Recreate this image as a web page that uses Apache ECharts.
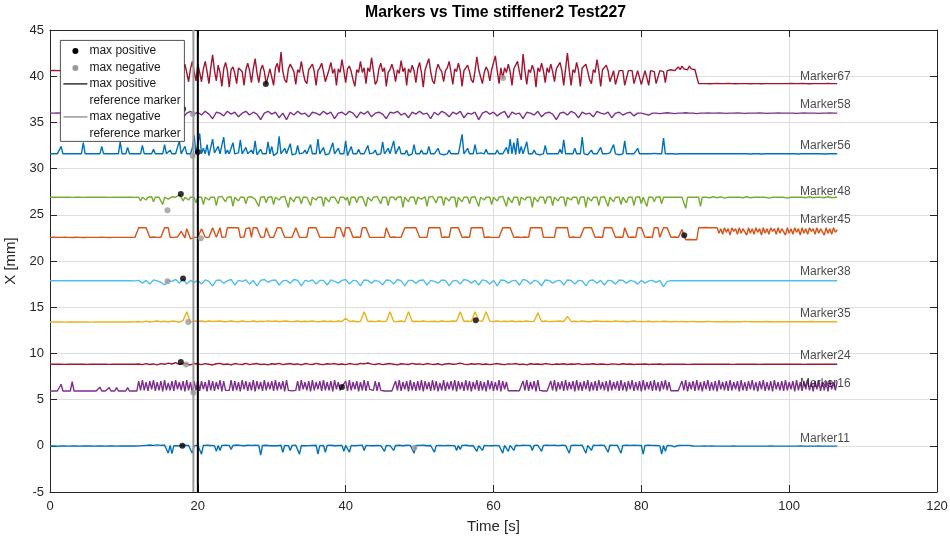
<!DOCTYPE html>
<html><head><meta charset="utf-8">
<script src="https://cdn.jsdelivr.net/npm/echarts@6/dist/echarts.min.js"></script>
<style>html,body{margin:0;padding:0;background:#fff}#c{width:950px;height:541px}</style>
</head><body><div id="c"></div>
<script>
// ---- data ----
// coarse time base (s)
const timeCoarse = [
0,0.5,1,1.5,2,2.5,3,3.5,4,4.5,5,5.5,6,6.5,7,7.5,8,8.5,9,9.5,
10,10.5,11,11.5,12,12.5,13,13.5,14,14.5,15,15.5,16,16.5,17,17.5,18,18.5,19,19.5,
20,20.5,21,21.5,22,22.5,23,23.5,24,24.5,25,25.5,26,26.5,27,27.5,28,28.5,29,29.5,
30,30.5,31,31.5,32,32.5,33,33.5,34,34.5,35,35.5,36,36.5,37,37.5,38,38.5,39,39.5,
40,40.5,41,41.5,42,42.5,43,43.5,44,44.5,45,45.5,46,46.5,47,47.5,48,48.5,49,49.5,
50,50.5,51,51.5,52,52.5,53,53.5,54,54.5,55,55.5,56,56.5,57,57.5,58,58.5,59,59.5,
60,60.5,61,61.5,62,62.5,63,63.5,64,64.5,65,65.5,66,66.5,67,67.5,68,68.5,69,69.5,
70,70.5,71,71.5,72,72.5,73,73.5,74,74.5,75,75.5,76,76.5,77,77.5,78,78.5,79,79.5,
80,80.5,81,81.5,82,82.5,83,83.5,84,84.5,85,85.5,86,86.5,87,87.5,88,88.5,89,89.5,
90,90.5,91,91.5,92,92.5,93,93.5,94,94.5,95,95.5,96,96.5,97,97.5,98,98.5,99,99.5,
100,100.5,101,101.5,102,102.5,103,103.5,104,104.5,105,105.5,106,106.5];

// fine time base (s)
const timeFine = [
0,0.25,0.5,0.75,1,1.25,1.5,1.75,2,2.25,2.5,2.75,3,3.25,3.5,3.75,4,4.25,4.5,4.75,5,5.25,5.5,5.75,6,6.25,6.5,6.75,7,7.25,7.5,7.75,8,8.25,8.5,8.75,9,9.25,9.5,9.75,
10,10.25,10.5,10.75,11,11.25,11.5,11.75,12,12.25,12.5,12.75,13,13.25,13.5,13.75,14,14.25,14.5,14.75,15,15.25,15.5,15.75,16,16.25,16.5,16.75,17,17.25,17.5,17.75,18,18.25,18.5,18.75,19,19.25,19.5,19.75,
20,20.25,20.5,20.75,21,21.25,21.5,21.75,22,22.25,22.5,22.75,23,23.25,23.5,23.75,24,24.25,24.5,24.75,25,25.25,25.5,25.75,26,26.25,26.5,26.75,27,27.25,27.5,27.75,28,28.25,28.5,28.75,29,29.25,29.5,29.75,
30,30.25,30.5,30.75,31,31.25,31.5,31.75,32,32.25,32.5,32.75,33,33.25,33.5,33.75,34,34.25,34.5,34.75,35,35.25,35.5,35.75,36,36.25,36.5,36.75,37,37.25,37.5,37.75,38,38.25,38.5,38.75,39,39.25,39.5,39.75,
40,40.25,40.5,40.75,41,41.25,41.5,41.75,42,42.25,42.5,42.75,43,43.25,43.5,43.75,44,44.25,44.5,44.75,45,45.25,45.5,45.75,46,46.25,46.5,46.75,47,47.25,47.5,47.75,48,48.25,48.5,48.75,49,49.25,49.5,49.75,
50,50.25,50.5,50.75,51,51.25,51.5,51.75,52,52.25,52.5,52.75,53,53.25,53.5,53.75,54,54.25,54.5,54.75,55,55.25,55.5,55.75,56,56.25,56.5,56.75,57,57.25,57.5,57.75,58,58.25,58.5,58.75,59,59.25,59.5,59.75,
60,60.25,60.5,60.75,61,61.25,61.5,61.75,62,62.25,62.5,62.75,63,63.25,63.5,63.75,64,64.25,64.5,64.75,65,65.25,65.5,65.75,66,66.25,66.5,66.75,67,67.25,67.5,67.75,68,68.25,68.5,68.75,69,69.25,69.5,69.75,
70,70.25,70.5,70.75,71,71.25,71.5,71.75,72,72.25,72.5,72.75,73,73.25,73.5,73.75,74,74.25,74.5,74.75,75,75.25,75.5,75.75,76,76.25,76.5,76.75,77,77.25,77.5,77.75,78,78.25,78.5,78.75,79,79.25,79.5,79.75,
80,80.25,80.5,80.75,81,81.25,81.5,81.75,82,82.25,82.5,82.75,83,83.25,83.5,83.75,84,84.25,84.5,84.75,85,85.25,85.5,85.75,86,86.25,86.5,86.75,87,87.25,87.5,87.75,88,88.25,88.5,88.75,89,89.25,89.5,89.75,
90,90.25,90.5,90.75,91,91.25,91.5,91.75,92,92.25,92.5,92.75,93,93.25,93.5,93.75,94,94.25,94.5,94.75,95,95.25,95.5,95.75,96,96.25,96.5,96.75,97,97.25,97.5,97.75,98,98.25,98.5,98.75,99,99.25,99.5,99.75,
100,100.25,100.5,100.75,101,101.25,101.5,101.75,102,102.25,102.5,102.75,103,103.25,103.5,103.75,104,104.25,104.5,104.75,105,105.25,105.5,105.75,106,106.25,106.5];

// Marker67 (fine)
const marker67 = [
40.6,40.6,40.61,40.6,40.6,40.59,40.6,40.6,40.61,40.6,40.6,40.6,40.59,40.6,40.61,40.6,40.6,40.6,40.59,40.6,40.6,40.61,40.6,40.6,40.6,40.59,40.6,40.6,40.61,40.6,40.6,40.6,40.59,40.6,40.6,40.61,40.6,40.6,40.6,40.6,
40.6,40.6,40.61,40.6,40.6,40.6,40.59,40.6,41.2,40.6,39.6,40.8,41.0,40.3,39.5,40.6,41.4,40.7,39.3,40.9,41.1,40.4,39.4,40.8,41.5,40.6,39.2,40.7,41.8,40.5,39.6,40.9,40.6,41.3,40.4,39.4,40.8,41.6,40.5,39.5,
41.3,40.4,39.4,40.8,41.6,40.5,39.2,40.9,42.3,40.6,39.5,41.2,40.4,38.9,40.8,41.5,40.6,38.8,40.7,41.0,40.3,39.2,40.9,41.0,40.5,39.0,40.7,41.4,40.6,39.3,40.8,41.9,40.4,39.3,40.7,41.2,40.5,39.15,39.2,40.8,
40.6,39.0,40.9,41.4,40.4,42.6,40.5,39.6,39.3,40.8,41.3,41.2,40.5,39.1,40.7,40.4,41.6,40.4,39.5,39.2,40.7,41.0,41.3,40.5,39.0,40.6,40.9,41.4,40.5,39.4,39.2,40.7,41.5,40.3,40.8,39.0,40.8,40.4,41.8,40.6,
39.3,40.8,41.1,40.5,39.6,38.9,40.7,40.4,41.6,40.4,40.9,39.2,40.9,40.5,42.0,40.6,39.1,39.5,40.8,41.4,40.5,40.9,38.9,40.4,40.7,41.3,40.6,39.4,40.7,40.3,41.7,40.5,40.9,39.0,40.8,40.4,41.2,40.6,39.3,40.8,
41.5,40.4,38.8,40.7,40.9,41.9,40.5,39.5,39.2,40.6,41.3,40.8,40.5,39.4,40.6,40.9,41.6,40.4,39.1,40.8,40.5,41.4,40.6,38.9,40.6,40.7,41.2,40.5,39.6,39.3,40.6,42.1,40.7,40.5,39.2,40.4,41.0,40.6,39.5,40.7,
40.6,42.2,40.6,39.2,40.9,39.8,40.9,40.4,41.3,40.5,39.0,40.8,40.7,41.6,40.5,39.6,42.4,40.6,39.1,40.7,40.4,41.2,40.6,38.8,40.9,40.5,41.4,40.6,39.3,40.9,40.4,41.3,40.5,39.4,40.8,40.7,41.5,40.6,39.0,40.8,
42.5,40.6,39.0,40.7,40.4,41.5,40.6,38.9,40.9,40.8,41.3,40.5,39.6,39.2,40.7,40.4,41.8,40.6,38.9,40.7,40.5,41.2,40.6,39.4,39.4,40.6,39.1,39.1,40.6,40.7,40.6,39.0,39.0,40.6,40.7,40.6,39.2,39.2,40.6,40.5,
39.1,39.1,40.6,40.7,39.0,40.6,40.6,40.5,39.2,39.2,40.6,40.6,40.5,39.3,40.6,40.6,40.7,40.6,40.6,40.5,41.0,40.7,41.1,40.8,41.0,40.7,41.1,40.8,41.0,40.7,40.9,39.2,39.2,39.2,39.21,39.2,39.2,39.19,39.2,39.2,
39.2,39.21,39.2,39.2,39.19,39.2,39.2,39.22,39.2,39.2,39.2,39.19,39.2,39.2,39.21,39.2,39.25,39.2,39.2,39.19,39.2,39.2,39.21,39.2,39.2,39.19,39.2,39.2,39.22,39.2,39.2,39.2,39.19,39.2,39.21,39.2,39.2,39.2,39.19,39.2,
39.2,39.21,39.2,39.2,39.19,39.2,39.2,39.21,39.2,39.2,39.2,39.19,39.2,39.2,39.21,39.2,39.2,39.2,39.19,39.2,39.2,39.21,39.2,39.2,39.19,39.2,39.2];

// Marker58 (coarse)
const marker58 = [
36.0,36.0,36.02,36.0,35.98,36.0,36.0,36.0,36.02,36.0,36.0,35.98,36.0,36.0,36.02,36.0,36.0,36.0,36.0,36.0,
36.0,36.0,36.0,35.9,36.1,35.7,36.1,35.8,36.2,35.6,36.0,35.9,36.2,35.7,36.0,36.1,35.5,36.0,36.2,35.9,
36.1,35.8,36.2,35.9,35.4,36.1,36.0,35.7,36.2,35.9,36.1,35.6,36.0,36.2,35.8,36.1,35.9,35.3,36.0,36.2,
35.9,36.1,35.5,36.0,35.3,36.1,35.8,36.2,35.9,36.0,35.6,36.1,36.0,35.8,36.2,35.9,36.1,35.4,36.0,36.1,
35.8,36.2,36.0,35.5,36.1,35.9,36.2,35.6,36.0,36.1,35.9,35.4,36.1,36.0,36.2,35.8,36.0,35.5,36.1,35.9,
36.2,35.9,36.0,35.4,36.1,35.8,36.2,36.0,35.6,36.1,35.9,36.2,35.5,36.0,35.9,36.1,35.3,36.0,36.2,35.9,
36.1,35.7,36.0,36.2,35.5,36.1,35.9,36.0,35.4,36.1,36.0,35.8,36.2,35.6,36.0,36.1,35.9,35.3,36.0,36.1,
35.8,36.2,36.0,35.5,36.1,35.9,36.0,35.6,36.2,36.0,35.9,36.1,35.5,36.0,36.1,35.8,36.0,36.1,35.7,36.0,
36.0,35.9,35.8,36.0,36.0,35.95,36.0,36.05,36.0,35.95,36.0,36.0,36.05,36.0,36.0,35.95,36.0,36.0,36.02,36.0,
36.0,36.02,36.0,35.98,36.0,36.0,36.02,36.0,35.98,36.0,36.0,36.0,36.02,36.0,35.98,36.0,36.0,36.02,36.0,36.0,
36.0,36.0,35.98,36.0,36.02,36.0,36.0,36.0,35.98,36.0,36.0,36.02,36.0,36.0];

// Marker56 (fine)
const marker56 = [
31.6,31.6,31.6,31.6,31.6,31.6,32.4,31.6,31.6,31.6,31.6,31.6,31.6,31.6,31.6,31.6,31.6,31.6,32.8,31.6,31.6,31.6,31.6,31.6,31.6,31.6,31.6,31.6,32.4,31.6,31.6,31.6,31.6,31.6,31.6,31.6,31.6,31.6,32.9,31.6,
31.6,31.6,32.3,31.6,31.6,31.6,31.6,31.6,31.7,31.6,32.5,31.6,31.6,31.6,31.6,31.6,32.1,31.6,31.6,31.6,31.7,31.6,32.6,31.6,31.6,32.0,31.6,31.5,31.6,31.6,33.0,31.6,31.6,32.4,31.6,31.7,31.6,32.2,33.6,31.6,
31.8,33.8,31.6,32.2,31.6,32.6,31.4,31.6,33.2,31.7,31.6,32.4,31.6,31.5,33.4,31.6,32.0,31.6,31.6,32.8,31.6,31.4,31.7,33.1,31.6,31.6,32.3,31.6,31.6,32.0,31.6,33.0,31.5,31.6,32.1,31.6,31.6,31.6,32.9,31.6,
32.4,31.4,31.6,31.7,33.5,31.6,31.6,32.2,31.6,31.6,32.7,31.5,31.6,31.6,32.5,31.6,31.6,31.7,32.0,31.6,31.6,32.6,31.6,31.6,31.6,33.2,31.6,31.6,32.3,31.5,31.6,31.6,31.7,32.8,31.6,31.6,32.2,31.6,31.6,31.6,
33.0,31.4,31.6,32.4,31.6,31.6,31.6,32.1,31.6,31.6,31.6,31.6,32.5,31.6,31.6,31.7,32.0,31.5,31.6,31.6,32.9,31.6,31.6,32.2,31.6,31.6,33.0,31.6,31.7,32.4,31.6,31.6,31.6,32.0,31.4,31.6,31.6,32.6,31.6,31.7,
31.6,32.0,31.6,31.7,31.6,32.4,31.6,31.6,31.6,31.6,32.2,31.6,31.6,31.5,31.6,31.6,32.0,31.6,31.6,31.6,31.6,31.6,31.6,33.7,31.6,31.6,32.2,31.6,31.6,31.6,32.6,31.6,31.6,31.7,31.6,31.6,32.1,31.6,31.6,31.6,
31.6,31.6,32.0,31.6,31.7,31.6,31.6,32.3,31.6,33.2,31.6,32.8,31.5,33.3,31.6,32.4,31.6,31.7,32.9,31.6,31.6,31.6,32.0,31.6,31.6,31.5,31.6,31.6,32.5,31.6,31.6,31.6,31.6,31.6,31.7,31.6,32.1,31.6,33.1,31.6,
31.6,31.6,31.7,31.6,32.2,31.6,31.6,31.6,33.4,31.6,31.6,31.5,31.6,32.0,31.6,31.6,31.6,31.6,32.3,31.6,31.6,31.6,31.6,31.7,31.6,32.6,31.6,31.6,31.5,31.6,31.6,33.0,31.6,31.6,31.6,31.6,31.6,31.6,32.2,31.6,
31.6,31.6,31.6,31.62,31.6,31.6,31.6,31.65,31.6,31.6,31.6,31.6,33.3,31.6,31.6,31.6,31.62,31.6,31.6,31.58,31.6,31.6,31.6,31.62,31.6,31.6,31.58,31.6,31.6,31.6,31.62,31.6,31.6,31.6,31.58,31.6,31.6,31.62,31.6,31.6,
31.6,31.6,31.62,31.6,31.58,31.6,31.6,31.6,31.62,31.6,31.6,31.6,31.58,31.6,31.6,31.62,31.6,31.6,31.6,31.58,31.6,31.6,31.62,31.6,31.6,31.58,31.6,31.6,31.6,31.62,31.6,31.6,31.58,31.6,31.6,31.62,31.6,31.6,31.6,31.6,
31.6,31.6,31.62,31.6,31.6,31.58,31.6,31.6,31.6,31.62,31.6,31.6,31.58,31.6,31.6,31.6,31.62,31.6,31.6,31.58,31.6,31.6,31.6,31.62,31.6,31.6,31.6];

// Marker48 (fine)
const marker48 = [
26.9,26.9,26.91,26.9,26.9,26.89,26.9,26.9,26.91,26.9,26.9,26.9,26.89,26.9,26.91,26.9,26.9,26.9,26.89,26.9,26.9,26.91,26.9,26.9,26.9,26.89,26.9,26.9,26.91,26.9,26.9,26.9,26.89,26.9,26.9,26.91,26.9,26.9,26.9,26.9,
26.9,26.9,26.91,26.9,26.9,26.9,26.89,26.9,26.9,26.5,26.9,26.9,26.6,26.9,26.9,26.95,26.4,26.9,26.9,26.9,26.95,26.1,26.9,26.9,26.7,26.9,26.95,27.0,26.9,27.1,27.2,26.9,26.5,26.9,26.9,26.6,26.9,26.95,26.9,26.3,
26.9,26.95,26.9,26.1,26.9,26.9,26.6,26.9,26.95,26.9,26.0,26.9,26.9,27.0,26.9,26.4,26.9,26.9,26.95,25.9,26.9,26.9,26.5,26.9,26.95,26.9,26.2,26.9,26.9,26.95,26.9,26.7,26.9,25.9,26.9,26.9,26.95,26.3,26.9,26.9,
26.95,26.1,26.9,26.9,26.6,26.9,26.95,27.0,26.9,25.8,26.9,26.9,26.4,26.9,26.95,26.9,26.2,26.9,26.9,26.9,26.95,26.0,26.9,26.9,26.6,26.9,26.95,26.9,25.9,26.9,26.9,26.4,26.9,27.0,26.9,26.9,26.2,26.9,26.95,26.9,
26.6,26.9,26.0,26.9,26.95,26.9,26.3,26.9,26.9,26.95,26.9,25.9,26.9,26.9,26.5,26.9,26.95,27.0,26.9,26.2,26.9,26.9,26.9,26.0,26.9,26.95,26.9,26.6,26.9,26.9,26.95,25.8,26.9,26.9,26.4,26.9,26.95,26.9,26.1,26.9,
26.9,26.7,26.9,26.95,25.9,26.9,26.9,27.0,26.9,26.3,26.9,26.9,26.95,26.0,26.9,26.9,26.5,26.9,26.95,26.9,25.8,26.9,26.9,26.4,26.9,26.95,26.9,26.2,26.9,26.9,26.95,26.9,25.9,26.9,26.9,26.6,26.9,26.95,26.9,26.1,
26.9,26.9,26.5,26.9,26.95,27.0,26.9,25.9,26.9,26.9,26.3,26.9,26.95,26.9,26.0,26.9,26.9,26.6,26.9,26.95,26.9,25.8,26.9,26.9,26.4,26.9,26.95,26.9,26.2,26.9,26.9,26.95,26.0,26.9,26.9,26.5,26.9,26.95,26.9,25.9,
26.9,26.9,26.6,26.9,26.95,26.9,26.1,26.9,26.9,26.95,25.8,26.9,26.9,26.5,26.9,26.95,26.9,26.0,26.9,26.9,26.95,26.9,25.9,26.9,26.9,26.4,26.9,26.95,26.9,26.1,26.9,26.9,26.3,26.9,26.95,26.9,26.0,26.9,26.9,26.95,
26.2,26.9,26.9,25.9,26.9,26.95,26.9,26.4,26.9,26.9,26.95,26.2,26.9,26.9,26.9,26.9,26.9,26.9,26.9,26.9,26.9,26.9,26.9,26.9,25.7,26.9,26.9,26.9,26.9,26.9,26.9,26.9,25.9,26.9,26.85,26.9,26.9,26.85,26.9,26.95,
26.9,26.85,26.9,26.95,26.9,26.8,26.9,26.9,26.85,26.9,26.95,26.9,26.8,26.9,26.9,26.85,26.9,26.95,26.9,26.85,26.9,26.9,26.8,26.9,26.95,26.9,26.85,26.9,26.9,26.8,26.9,26.9,26.85,26.9,26.95,26.9,26.85,26.9,26.9,26.8,
26.9,26.9,26.85,26.9,26.95,26.9,26.8,26.9,26.9,26.85,26.9,26.95,26.9,26.85,26.9,26.9,26.8,26.9,26.9,26.85,26.9,26.95,26.9,26.85,26.9,26.9,26.9];

// Marker45 (fine)
const marker45 = [
22.56,22.56,22.57,22.56,22.56,22.55,22.56,22.56,22.57,22.56,22.56,22.56,22.55,22.56,22.57,22.56,22.56,22.56,22.55,22.56,22.56,22.57,22.56,22.56,22.56,22.55,22.56,22.56,22.57,22.56,22.56,22.56,22.55,22.56,22.56,22.57,22.56,22.56,22.56,22.56,
22.56,22.56,22.56,22.57,22.56,22.56,22.56,22.56,23.6,23.5,23.6,23.55,23.6,23.5,22.56,22.56,22.6,22.56,22.56,22.56,22.56,22.6,23.6,23.5,23.6,22.56,22.56,22.56,22.56,22.6,22.7,23.2,23.1,22.5,23.5,23.6,22.4,22.56,22.56,22.56,
22.56,22.45,23.5,23.6,22.56,22.56,22.56,22.6,23.6,23.5,22.56,22.56,23.6,22.56,22.56,22.6,23.6,23.5,23.6,23.55,23.6,23.5,23.6,22.56,22.56,22.6,23.5,23.6,23.6,22.56,23.6,23.5,23.6,23.6,22.56,22.56,22.6,23.6,23.5,22.56,
22.56,22.56,22.6,23.6,23.5,23.6,23.55,22.56,22.56,22.56,22.6,22.56,22.56,23.6,23.5,22.56,22.56,22.56,22.6,22.56,23.6,23.5,23.6,23.55,23.6,23.5,22.56,22.56,22.56,22.6,22.56,22.56,22.56,22.56,22.56,23.6,23.5,23.6,23.55,22.56,
23.6,23.5,23.6,23.6,22.56,22.56,22.6,22.56,22.56,23.6,23.5,23.6,23.55,22.56,22.56,22.56,22.6,22.56,22.56,22.56,22.56,22.56,23.6,23.5,22.56,22.56,22.6,22.56,22.56,22.56,22.56,22.56,23.6,23.5,23.6,23.55,23.6,23.5,23.6,23.55,
22.56,22.6,22.56,22.56,22.56,23.6,23.5,23.6,23.55,23.6,23.5,23.6,22.56,22.56,22.6,22.56,22.56,23.6,23.5,23.6,23.55,23.6,23.5,22.56,22.56,22.6,22.56,22.56,23.6,23.5,23.6,23.55,23.6,23.5,23.6,22.56,22.56,22.6,22.56,22.56,
22.56,22.56,22.6,22.56,22.56,23.6,23.5,23.6,23.55,23.6,23.5,22.56,22.56,22.6,22.56,22.56,22.56,22.6,22.56,22.56,23.6,23.5,23.6,23.55,23.6,23.5,23.6,22.56,22.56,22.56,22.6,22.56,22.56,22.56,23.6,23.5,23.6,23.55,23.6,23.5,
23.6,22.56,22.56,22.6,22.56,22.56,22.56,22.56,22.6,23.6,23.5,23.6,23.55,23.6,23.5,22.56,22.56,22.6,22.56,22.56,23.6,23.5,23.6,23.55,23.6,23.5,22.56,22.56,22.6,22.56,22.56,23.6,23.5,22.56,22.56,22.6,22.56,22.56,23.6,23.5,
23.6,23.55,22.56,22.56,22.6,22.56,22.56,23.6,23.5,23.6,22.56,22.56,23.6,23.5,23.6,23.55,22.56,22.56,22.6,22.56,22.56,22.56,23.4,22.8,22.3,22.3,22.32,22.3,22.3,22.31,22.3,23.6,23.62,23.6,23.6,23.62,23.6,23.6,23.62,23.6,
23.6,23.6,23.0,23.5,22.9,23.6,23.1,23.5,22.8,23.6,23.2,23.5,22.9,23.6,23.0,23.5,23.3,22.8,23.6,23.0,23.5,22.9,23.6,23.1,23.5,22.8,23.6,23.0,23.5,22.9,23.6,23.2,23.5,22.9,23.6,23.0,23.5,23.3,22.8,23.6,
23.0,23.5,22.9,23.6,23.1,23.5,22.8,23.6,23.0,23.5,22.9,23.6,23.2,23.5,22.9,23.6,23.0,23.5,23.3,22.8,23.6,23.0,23.5,22.9,23.6,23.1,23.4];

// Marker38 (coarse)
const marker38 = [
17.87,17.87,17.88,17.87,17.86,17.87,17.87,17.88,17.87,17.87,17.86,17.87,17.87,17.88,17.87,17.87,17.86,17.87,17.87,17.88,
17.87,17.87,17.87,17.85,17.9,17.6,17.9,17.5,17.95,17.85,17.7,17.4,17.9,17.8,18.0,17.6,18.1,17.5,17.9,17.7,
17.9,17.5,17.95,17.8,17.3,17.9,17.95,17.6,17.85,18.0,17.4,17.9,17.8,17.95,17.5,17.9,17.3,17.9,18.0,17.7,
17.9,17.95,17.4,17.85,17.9,17.6,18.0,17.9,17.3,17.9,17.8,17.95,17.5,17.9,17.9,17.4,17.95,17.8,17.6,17.9,
18.0,17.5,17.9,17.85,17.3,17.95,17.9,17.6,17.9,17.8,17.4,17.95,17.9,17.5,18.0,17.85,17.3,17.9,17.9,17.6,
17.9,17.95,17.4,17.9,17.8,17.6,17.95,17.9,17.3,17.85,17.9,17.5,18.0,17.9,17.6,17.9,17.4,17.95,17.85,17.5,
17.9,17.3,17.95,17.9,17.6,17.85,17.9,17.4,18.0,17.9,17.5,17.9,17.8,17.3,17.95,17.9,17.6,17.85,17.9,17.4,
17.95,17.9,17.5,17.9,17.85,17.3,17.9,17.95,17.6,17.9,17.4,17.9,17.85,17.5,17.95,17.9,17.6,17.9,17.8,17.5,
17.9,17.6,17.85,17.9,17.7,17.9,17.2,17.8,17.87,17.88,17.87,17.86,17.87,17.88,17.87,17.87,17.86,17.87,17.88,17.87,
17.87,17.88,17.87,17.86,17.87,17.87,17.88,17.87,17.86,17.87,17.87,17.88,17.87,17.86,17.87,17.87,17.88,17.87,17.86,17.87,
17.87,17.87,17.88,17.87,17.86,17.87,17.87,17.88,17.87,17.86,17.87,17.87,17.88,17.87];

// Marker35 (coarse)
const marker35 = [
13.4,13.4,13.41,13.4,13.39,13.4,13.4,13.41,13.4,13.4,13.4,13.39,13.4,13.4,13.41,13.4,13.4,13.4,13.41,13.4,
13.4,13.4,13.4,13.42,13.45,13.38,13.5,13.4,13.45,13.5,13.42,13.48,13.4,13.5,13.45,13.4,13.55,14.5,13.4,13.5,
13.45,13.5,13.42,13.5,13.45,13.48,13.5,13.42,13.46,13.5,13.45,13.42,13.5,13.46,13.44,13.5,13.42,13.48,13.46,13.52,
13.45,13.5,13.42,13.48,13.5,13.44,13.46,13.5,13.42,13.48,13.46,13.5,13.44,13.42,13.5,13.46,13.48,13.44,13.5,13.45,
13.8,13.45,13.5,13.42,13.46,14.5,13.45,13.48,13.44,13.5,13.46,13.48,14.5,13.44,13.46,13.5,13.42,14.5,13.46,13.48,
13.45,13.5,13.44,13.46,13.48,13.42,13.5,13.46,13.45,13.5,13.48,14.5,13.46,13.5,13.44,14.5,13.55,13.46,14.5,13.48,
13.45,13.5,13.44,13.48,13.46,13.5,13.42,13.48,13.46,13.5,13.44,13.48,14.4,13.46,13.5,13.44,13.46,13.48,13.5,13.45,
14.0,13.46,13.48,13.44,13.5,13.46,13.42,13.48,13.5,13.45,13.46,13.48,13.44,13.5,13.46,13.48,13.42,13.46,13.5,13.44,
13.46,13.44,13.48,13.42,13.46,13.44,13.48,13.45,13.42,13.46,13.44,13.45,13.42,13.44,13.46,13.43,13.44,13.42,13.45,13.44,
13.43,13.44,13.42,13.45,13.43,13.44,13.42,13.43,13.45,13.44,13.42,13.43,13.44,13.42,13.45,13.43,13.44,13.42,13.43,13.44,
13.42,13.44,13.43,13.42,13.44,13.43,13.45,13.42,13.43,13.44,13.42,13.43,13.44,13.42];

// Marker24 (coarse)
const marker24 = [
8.82,8.82,8.83,8.82,8.81,8.82,8.82,8.83,8.82,8.82,8.81,8.82,8.82,8.83,8.82,8.82,8.81,8.82,8.82,8.83,
8.82,8.82,8.83,8.82,8.85,8.78,8.9,8.8,8.86,8.75,8.9,8.82,8.95,8.85,9.0,8.8,8.92,8.85,8.75,8.9,
8.85,8.78,8.9,8.82,8.75,8.88,8.92,8.8,8.85,8.76,8.9,8.84,8.8,8.92,8.78,8.86,8.9,8.8,8.84,8.76,
8.88,8.82,8.92,8.78,8.85,8.9,8.8,8.86,8.75,8.9,8.84,8.8,8.92,8.82,8.78,8.88,8.84,8.9,8.8,8.85,
8.78,8.9,8.84,8.8,8.92,8.86,8.96,8.84,8.8,8.9,8.78,8.85,8.9,8.82,8.76,8.88,8.84,8.8,8.92,8.82,
8.86,8.78,8.9,8.84,8.8,8.88,8.76,8.85,8.9,8.82,8.86,8.94,8.84,8.78,8.88,8.82,8.9,8.8,8.85,8.78,
8.84,8.9,8.82,8.78,8.86,8.84,8.9,8.8,8.84,8.76,8.88,8.82,8.86,8.8,8.9,8.84,8.78,8.85,8.82,8.88,
8.8,8.86,8.82,8.9,8.78,8.84,8.82,8.88,8.8,8.85,8.82,8.78,8.86,8.84,8.8,8.88,8.82,8.85,8.8,8.84,
8.82,8.86,8.8,8.84,8.82,8.85,8.8,8.84,8.82,8.83,8.82,8.84,8.82,8.81,8.83,8.82,8.84,8.82,8.83,8.82,
8.82,8.83,8.82,8.84,8.82,8.81,8.83,8.82,8.82,8.84,8.82,8.83,8.81,8.82,8.83,8.82,8.84,8.82,8.82,8.83,
8.82,8.82,8.83,8.82,8.81,8.82,8.83,8.82,8.82,8.84,8.82,8.82,8.83,8.82];

// Marker16 (fine)
const marker16 = [
5.93,5.93,5.93,5.93,5.93,5.93,6.66,5.93,5.93,5.93,5.93,5.93,6.94,5.93,5.93,5.93,5.93,5.93,5.93,5.93,5.93,5.93,5.93,5.93,5.93,5.93,5.93,6.35,5.93,5.93,5.93,5.93,6.3,5.93,5.93,5.93,6.3,5.93,5.93,5.93,
5.93,5.93,6.3,5.93,5.93,5.93,5.93,5.93,7.0,6.0,7.1,6.0,6.9,5.95,7.0,6.1,7.1,5.95,6.9,6.0,7.0,5.9,7.1,6.0,6.8,6.0,7.0,5.95,7.1,6.1,6.9,6.0,7.0,5.9,7.1,6.0,6.9,5.75,7.0,6.0,
7.1,5.95,7.0,6.1,6.9,5.9,7.1,6.0,7.0,5.95,6.9,6.1,7.1,5.9,7.0,6.0,6.2,6.0,7.1,5.95,7.0,6.0,6.9,5.9,7.1,6.1,7.0,5.95,6.9,6.0,7.1,5.9,7.0,6.1,6.9,5.95,7.1,6.0,6.9,6.1,
7.0,5.95,7.1,6.0,6.9,6.1,7.0,5.9,7.1,6.0,6.0,5.95,6.1,6.0,7.0,5.95,7.1,6.1,6.9,6.0,7.0,5.9,7.1,6.0,6.9,6.1,7.0,5.95,7.1,6.0,6.9,6.0,7.0,5.9,7.1,6.1,6.9,6.0,6.4,6.4,
7.0,5.95,7.1,6.0,6.9,6.1,7.0,5.9,6.9,6.0,7.1,5.95,7.0,6.1,6.2,6.0,7.0,5.95,6.9,6.0,5.95,5.93,5.95,5.93,5.95,5.93,5.95,7.0,6.0,7.1,5.95,6.9,6.1,7.0,5.9,7.1,6.0,6.9,5.95,7.0,
6.0,7.1,5.9,7.0,6.1,6.9,5.95,7.1,6.0,7.0,5.9,6.8,6.0,7.1,5.95,6.9,6.1,7.0,6.0,7.1,5.9,7.0,6.1,6.9,5.95,7.1,6.0,7.0,5.9,6.9,6.1,7.1,5.95,7.0,6.0,6.9,5.9,7.1,6.1,7.0,
5.95,6.9,6.0,7.1,5.9,7.0,6.1,6.9,5.95,5.93,5.95,5.93,5.95,5.93,5.95,5.93,7.0,6.0,7.1,5.95,6.9,6.1,7.0,5.9,7.1,6.0,5.95,5.93,5.95,5.93,5.95,7.0,6.0,7.1,5.9,6.9,6.1,7.0,5.95,7.1,
6.0,6.9,6.1,7.0,5.9,7.1,6.0,6.9,5.95,7.0,6.1,7.1,5.9,6.9,6.0,7.0,5.95,7.1,6.1,6.9,6.0,7.0,5.9,7.1,6.0,6.9,6.1,7.0,5.95,7.1,6.0,6.9,5.9,7.0,6.1,7.1,5.95,6.9,6.0,7.0,
5.9,7.1,6.0,6.9,6.1,7.0,5.95,7.1,6.0,6.9,5.9,7.0,6.1,7.1,6.0,6.9,5.95,5.93,5.95,5.93,5.95,5.93,7.0,6.0,7.1,5.9,6.9,6.1,7.0,5.95,7.1,6.0,6.9,5.9,7.0,6.1,7.1,5.95,6.9,6.0,
7.0,5.9,7.1,6.1,6.9,6.0,7.0,5.95,7.1,6.0,6.9,6.1,7.0,5.9,7.1,6.0,6.9,5.95,7.0,6.1,7.1,6.0,6.9,5.9,7.0,6.1,7.1,5.95,6.9,6.0,7.0,5.9,7.1,6.1,6.9,6.0,7.0,5.95,7.1,6.0,
6.9,6.1,7.0,5.9,7.1,6.0,6.9,5.95,7.0,6.1,7.1,6.0,6.9,5.9,7.0,6.1,7.1,5.95,6.9,6.0,7.0,5.9,7.1,6.1,6.9,6.0,7.0];

// Marker11 (fine)
const marker11 = [
-0.02,-0.02,-0.01,-0.02,-0.03,-0.02,-0.02,-0.01,-0.02,-0.02,-0.03,-0.02,-0.02,-0.01,-0.02,-0.02,-0.03,-0.02,-0.02,-0.01,-0.02,-0.02,-0.01,-0.02,-0.03,-0.02,-0.02,-0.01,-0.02,-0.02,-0.03,-0.02,-0.02,-0.01,-0.02,-0.02,-0.03,-0.02,-0.02,-0.01,
-0.02,-0.02,-0.02,-0.02,-0.02,-0.01,-0.02,-0.01,-0.01,0.0,0.02,0.04,0.05,0.06,0.08,0.06,0.05,0.08,0.1,0.06,0.05,0.1,0.08,0.04,-0.8,0.05,-0.85,0.0,0.05,0.02,0.05,0.0,0.03,0.06,0.02,0.04,0.0,-0.8,0.02,0.05,
0.03,0.0,-0.9,0.05,0.02,0.06,0.0,0.04,0.05,0.02,-0.6,0.04,-0.5,0.05,0.02,0.06,0.0,0.05,-0.4,0.03,0.05,0.08,0.02,0.05,0.06,0.0,0.04,0.06,0.02,0.05,0.0,0.06,0.03,0.05,-1.0,0.04,0.02,0.06,0.05,0.0,
0.06,0.02,0.05,0.0,0.04,0.06,-0.7,0.03,0.05,0.02,-0.5,0.05,0.02,0.06,0.04,-0.9,0.03,0.05,0.0,0.06,0.02,0.05,0.04,0.0,0.06,-0.9,0.02,0.05,0.04,-0.7,0.05,0.02,0.06,0.03,0.0,0.05,0.04,0.02,0.05,-0.6,
0.04,0.02,-0.7,0.05,0.06,0.0,0.03,0.05,0.02,0.06,-0.5,0.04,0.05,0.02,0.06,0.0,0.05,0.03,0.06,0.02,0.05,-0.6,0.03,0.06,0.02,0.05,-0.5,0.04,0.02,0.06,0.05,0.0,0.04,0.06,0.02,0.05,0.03,-0.8,0.04,0.02,
0.05,0.02,0.06,0.04,0.0,0.05,0.03,0.06,-0.7,0.02,0.05,0.04,0.06,0.02,0.0,0.05,0.06,0.03,0.05,0.02,-0.5,0.04,-0.4,0.05,0.02,0.06,0.04,0.0,0.05,0.03,0.06,-0.6,0.02,0.05,-0.5,0.04,0.06,0.02,0.05,0.0,
0.05,0.03,0.06,0.02,0.05,-0.8,0.04,0.0,-0.6,0.05,0.02,-0.5,0.06,0.04,0.02,0.05,0.06,0.03,0.05,0.02,0.04,-0.5,0.05,0.02,0.06,0.04,-0.6,0.05,0.02,0.06,0.03,0.05,0.0,0.06,0.04,0.02,0.05,0.06,0.03,0.05,
0.02,-0.8,0.05,0.04,0.06,0.02,0.05,0.03,0.06,0.04,-0.8,0.05,0.02,-0.5,0.06,0.04,0.05,0.02,0.06,0.03,0.05,0.04,-0.7,0.06,0.02,0.05,0.04,0.06,0.03,-0.8,0.05,0.02,0.06,0.04,0.05,0.0,0.06,0.03,0.05,0.02,
0.04,-0.9,0.05,0.02,0.06,0.04,0.05,0.02,0.04,0.05,0.02,-0.9,0.04,-0.6,0.05,0.03,0.02,0.0,-0.1,0.02,0.04,0.05,0.05,0.04,0.05,0.04,0.05,0.02,-0.02,-0.03,-0.03,-0.02,-0.03,-0.03,-0.02,-0.03,-0.04,-0.03,-0.02,-0.03,
-0.03,-0.02,-0.03,-0.04,-0.03,-0.02,-0.03,-0.03,-0.04,-0.03,-0.02,-0.03,-0.03,-0.04,-0.03,-0.02,-0.03,-0.03,-0.04,-0.03,-0.03,-0.02,-0.03,-0.04,-0.03,-0.02,-0.03,-0.03,-0.04,-0.03,-0.02,-0.03,-0.03,-0.04,-0.03,-0.02,-0.03,-0.03,-0.04,-0.03,
-0.03,-0.02,-0.03,-0.04,-0.03,-0.03,-0.02,-0.03,-0.04,-0.03,-0.03,-0.02,-0.03,-0.03,-0.04,-0.03,-0.02,-0.03,-0.03,-0.04,-0.03,-0.02,-0.03,-0.03,-0.04,-0.03,-0.03];

const markerNames = ['Marker67','Marker58','Marker56','Marker48','Marker45','Marker38','Marker35','Marker24','Marker16','Marker11'];
const markerValues = [marker67, marker58, marker56, marker48, marker45, marker38, marker35, marker24, marker16, marker11];
const markerTimes = [timeFine, timeCoarse, timeFine, timeFine, timeFine, timeCoarse, timeCoarse, timeCoarse, timeFine, timeFine];
const markerColors = ['#A2142F','#7E2F8E','#0072BD','#77AC30','#D95319','#4DBEEE','#EDB120','#A2142F','#7E2F8E','#0072BD'];

// text labels (data coordinates)
const labelTime = 101.4;
const labelValues = [39.95, 36.88, 32.45, 27.5, 24.44, 18.84, 14.34, 9.72, 6.69, 0.76];

// max positive / max negative points [time, value]
const maxPositive = [[29.2,39.15],[18.0,36.45],[20.0,31.8],[17.7,27.25],[85.8,22.8],[18.0,18.1],[57.6,13.6],[17.7,9.07],[39.5,6.36],[17.9,0.0]];
const maxNegative = [[61.3,39.8],[19.3,35.9],[19.3,31.4],[15.9,25.5],[20.4,22.45],[15.9,17.8],[18.7,13.4],[18.4,8.8],[19.4,5.75],[49.3,-0.2]];

// reference marker times
const refPositiveTime = 20.0;
const refNegativeTime = 19.4;

const xRange = [0, 120], xStep = 20;
const yRange = [-5, 45], yStep = 5;
const legendLabels = ['max positive', 'max negative', 'max positive', 'reference marker', 'max negative', 'reference marker'];
const titleText = 'Markers vs Time stiffener2 Test227';

// ---- chart ----
const FONT = '"Liberation Sans", Arial, Helvetica, sans-serif';
const AX = '#262626';
const chart = echarts.init(document.getElementById('c'), null, {renderer: 'canvas'});

const series = markerValues.map((vals, k) => ({
  type: 'line', name: markerNames[k],
  data: markerTimes[k].map((t, i) => [t, vals[i]]).filter(p => p[1] !== undefined),
  symbol: 'none', showSymbol: false, sampling: null,
  lineStyle: {width: 1.4, color: markerColors[k]}, itemStyle: {color: markerColors[k]},
  z: 2, silent: true, animation: false
}));

series.push({
  type: 'line', name: 'max negative reference marker',
  data: [[refNegativeTime, yRange[0]], [refNegativeTime, yRange[1]]],
  symbol: 'none', lineStyle: {width: 2, color: '#999999'}, z: 4, silent: true, animation: false
});
series.push({
  type: 'line', name: 'max positive reference marker',
  data: [[refPositiveTime, yRange[0]], [refPositiveTime, yRange[1]]],
  symbol: 'none', lineStyle: {width: 2, color: '#000000'}, z: 4, silent: true, animation: false
});
series.push({
  type: 'scatter', name: 'max negative', data: maxNegative, symbol: 'circle', symbolSize: 6,
  itemStyle: {color: '#999999'}, z: 5, silent: true, animation: false
});
series.push({
  type: 'scatter', name: 'max positive', data: maxPositive, symbol: 'circle', symbolSize: 6,
  itemStyle: {color: '#000000'}, z: 5, silent: true, animation: false
});
series.push({
  type: 'scatter', name: 'labels',
  data: labelValues.map((v, i) => ({value: [labelTime, v], name: markerNames[i]})),
  symbol: 'circle', symbolSize: 1, itemStyle: {color: 'rgba(0,0,0,0)'},
  label: {show: true, position: 'right', distance: 0, formatter: '{b}', color: '#1a1a1a', fontSize: 12, fontFamily: FONT},
  z: 6, silent: true, animation: false
});

function axisCommon(extra) {
  return Object.assign({
    type: 'value',
    axisLine: {show: true, onZero: false, lineStyle: {color: AX, width: 1}},
    axisTick: {show: true, inside: true, length: 7, lineStyle: {color: AX, width: 1}},
    axisLabel: {show: false},
    splitLine: {show: false}
  }, extra);
}

const legendX = 60, legendY = 40;
const legendChildren = [
  {type: 'rect', shape: {x: 0, y: 0, width: 124, height: 101}, style: {fill: '#ffffff', stroke: AX, lineWidth: 0.8}, z: 100},
  {type: 'circle', shape: {cx: 15, cy: 10.5, r: 3}, style: {fill: '#000000'}, z: 101},
  {type: 'circle', shape: {cx: 15, cy: 27.5, r: 3}, style: {fill: '#999999'}, z: 101},
  {type: 'line', shape: {x1: 3, y1: 43.5, x2: 27, y2: 43.5}, style: {stroke: '#333333', lineWidth: 1.5}, z: 101},
  {type: 'line', shape: {x1: 3, y1: 76.5, x2: 27, y2: 76.5}, style: {stroke: '#999999', lineWidth: 1.5}, z: 101}
];
const legendTextY = [10.5, 27.5, 43.5, 60, 76.5, 93];
legendLabels.forEach((s, i) => legendChildren.push({
  type: 'text', x: 29, y: legendTextY[i], z: 101,
  style: {text: s, fill: '#1a1a1a', fontSize: 12, fontFamily: FONT, verticalAlign: 'middle', textAlign: 'left'}
}));

const option = {
  backgroundColor: '#ffffff',
  animation: false,
  title: {text: titleText, left: 360, top: 0, textStyle: {fontSize: 15.8, fontWeight: 'bold', color: '#000', fontFamily: FONT}},
  grid: {left: 50, right: 13, top: 30, bottom: 49, containLabel: false, outerBoundsMode: 'none'},
  xAxis: [
    axisCommon({position: 'bottom', min: xRange[0], max: xRange[1], interval: xStep,
      name: 'Time [s]', nameLocation: 'middle', nameGap: 27,
      nameTextStyle: {fontSize: 15, color: AX, fontFamily: FONT},
      axisLabel: {show: true, color: AX, fontSize: 13, margin: 8, fontFamily: FONT},
      splitLine: {show: true, lineStyle: {color: '#dfdfdf', width: 1}}}),
    axisCommon({position: 'top', min: xRange[0], max: xRange[1], interval: xStep})
  ],
  yAxis: [
    axisCommon({position: 'left', min: yRange[0], max: yRange[1], interval: yStep,
      name: 'X [mm]', nameLocation: 'middle', nameGap: 28, nameRotate: 90,
      nameTextStyle: {fontSize: 15, color: AX, fontFamily: FONT},
      axisLabel: {show: true, color: AX, fontSize: 13, margin: 6, fontFamily: FONT},
      splitLine: {show: true, lineStyle: {color: '#dfdfdf', width: 1}}}),
    axisCommon({position: 'right', min: yRange[0], max: yRange[1], interval: yStep})
  ],
  graphic: [{type: 'group', left: legendX, top: legendY, children: legendChildren}],
  series: series
};
chart.setOption(option);
</script>
</body></html>
